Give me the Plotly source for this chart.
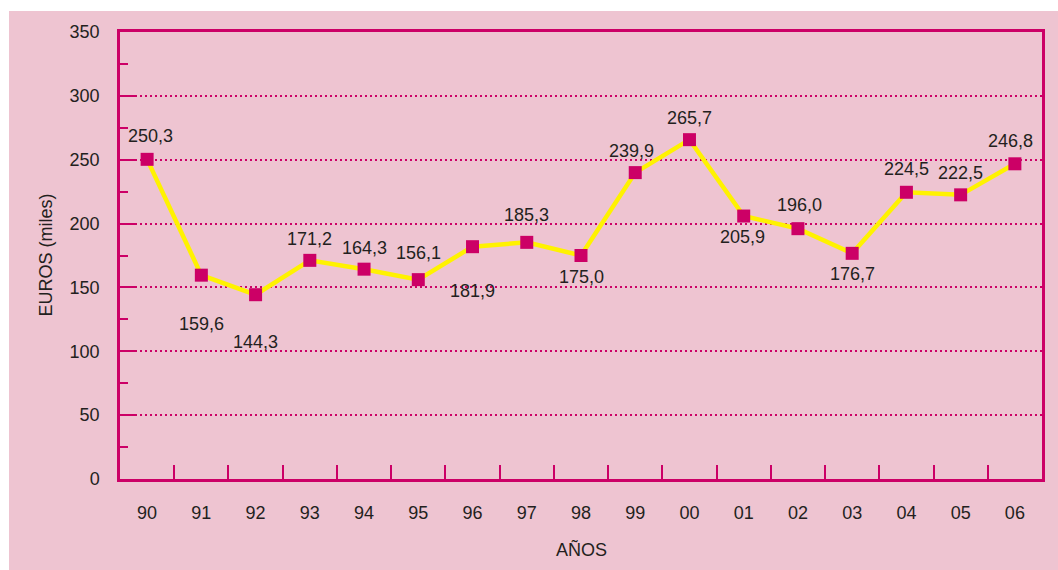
import plotly.graph_objects as go

years = ["90", "91", "92", "93", "94", "95", "96", "97", "98", "99",
         "00", "01", "02", "03", "04", "05", "06"]
values = [250.3, 159.6, 144.3, 171.2, 164.3, 156.1, 181.9, 185.3, 175.0, 239.9,
          265.7, 205.9, 196.0, 176.7, 224.5, 222.5, 246.8]
labels = ["250,3", "159,6", "144,3", "171,2", "164,3", "156,1", "181,9", "185,3", "175,0", "239,9",
          "265,7", "205,9", "196,0", "176,7", "224,5", "222,5", "246,8"]
# label offsets in pixels (style only)
label_dy = [23, -49, -47, 21, 21, 27, -44, 27, -21, 22, 22, -21, 24, -21, 23, 22, 23]
label_dx = [3, 0, 0, 0, 0, 0, 0, 0, 0, -4, 0, -1, 2, 0, 0, 0, -4]

PINK = "#EEC4D1"
MAG = "#CC0066"
YEL = "#FFF200"
TXT = "#231F20"
FONT = "Liberation Sans, Arial, Helvetica, sans-serif"
FS = 18

fig = go.Figure()
fig.add_trace(go.Scatter(
    x=years, y=values, mode="lines+markers",
    line=dict(color=YEL, width=4.5),
    marker=dict(symbol="square", size=13, color=MAG),
    hoverinfo="skip", showlegend=False,
))

annotations = []
for i, (v, t, dy, dx) in enumerate(zip(values, labels, label_dy, label_dx)):
    annotations.append(dict(x=i, y=v, xref="x", yref="y", text=t, showarrow=False,
                            yshift=dy, xshift=dx, font=dict(family=FONT, size=FS, color=TXT)))
annotations.append(dict(x=0, y=0.5, xref="paper", yref="paper", text="EUROS (miles)",
                        textangle=-90, showarrow=False, xanchor="center", yanchor="middle",
                        xshift=-75, font=dict(family=FONT, size=FS, color=TXT)))
annotations.append(dict(x=0.5, y=0, xref="paper", yref="paper", text="AÑOS",
                        showarrow=False, xanchor="center", yanchor="middle",
                        yshift=-70, font=dict(family=FONT, size=FS, color=TXT)))

fig.update_layout(
    width=1058, height=570,
    margin=dict(l=120, r=16, t=32, b=91),
    paper_bgcolor="white", plot_bgcolor=PINK,
    font=dict(family=FONT, size=FS, color=TXT),
    annotations=annotations,
    shapes=[dict(type="rect", xref="paper", yref="paper",
                 x0=(9 - 120) / 922, x1=1.05, y0=-0.25, y1=(479 - 11) / 447,
                 fillcolor=PINK, line=dict(width=0), layer="below")],
    xaxis=dict(type="category", categoryorder="array", categoryarray=years,
               range=[-0.5, 16.5], showgrid=False,
               showline=True, linecolor=MAG, linewidth=2.5, mirror=True,
               ticks="inside", tickson="boundaries", ticklen=14, tickwidth=1.5, tickcolor=MAG,
               ticklabelstandoff=16, tickfont=dict(family=FONT, size=FS, color=TXT),
               zeroline=False, fixedrange=True),
    yaxis=dict(range=[0, 350], dtick=50, tick0=0,
               showgrid=True, gridcolor=MAG, gridwidth=1.5, griddash="1.5px,3.5px",
               showline=True, linecolor=MAG, linewidth=2.5, mirror=True,
               ticks="inside", ticklen=15, tickwidth=1.5, tickcolor=MAG,
               minor=dict(ticks="inside", ticklen=8, tickwidth=1.5, tickcolor=MAG,
                          dtick=25, tick0=0, showgrid=False),
               ticklabelstandoff=14, tickfont=dict(family=FONT, size=FS, color=TXT),
               zeroline=False, fixedrange=True),
)

fig.write_html("out.html", config={"displayModeBar": False},
               post_script="document.body.style.margin='0';")
